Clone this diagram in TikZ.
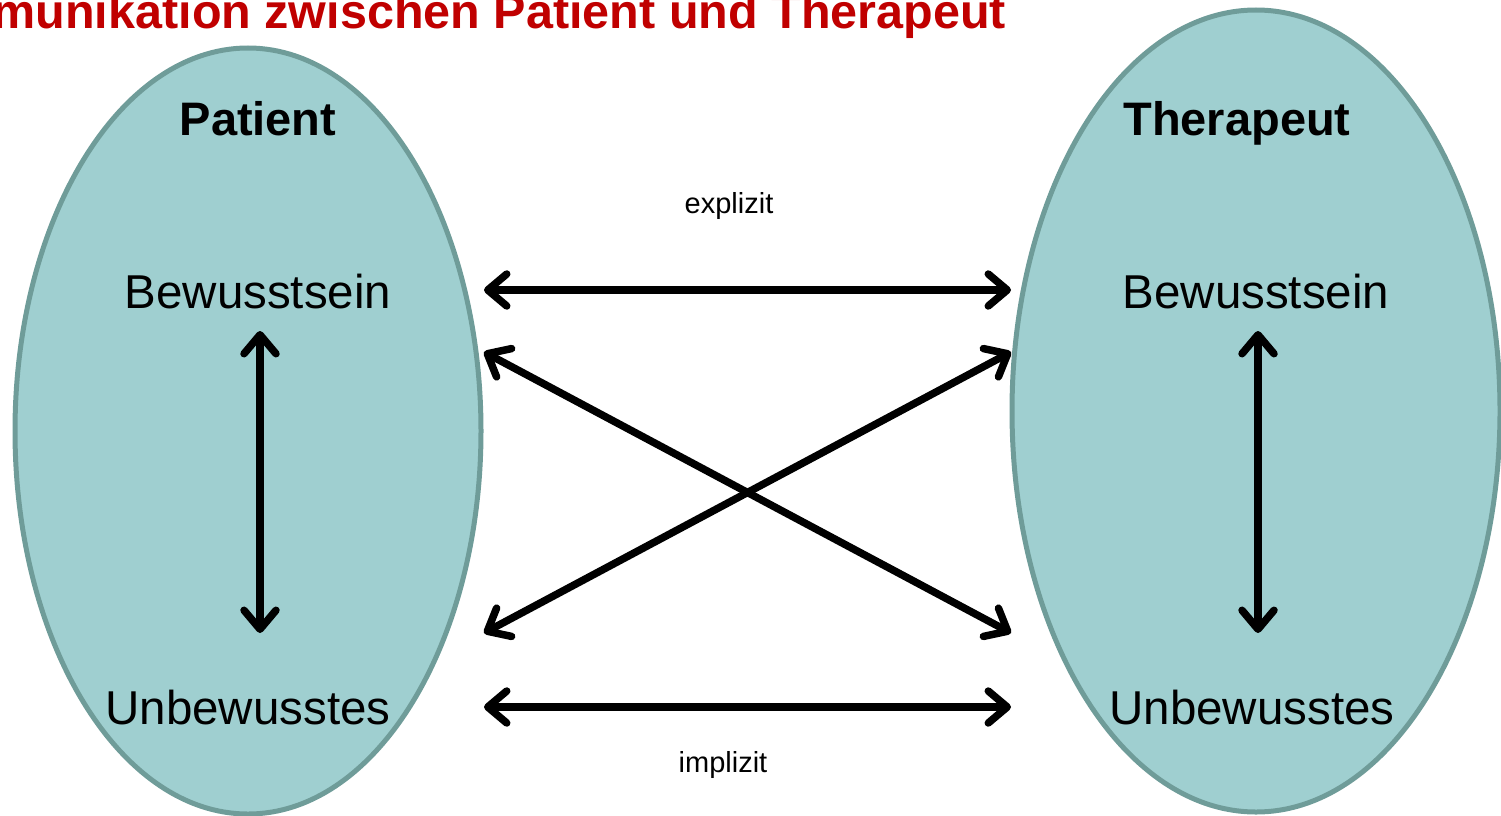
\documentclass[tikz,border=0pt]{standalone}
\usepackage{fontspec}
\setmainfont{Liberation Sans}
\usetikzlibrary{arrows.meta}
\definecolor{ellfill}{HTML}{9FCFD0}
\definecolor{elldraw}{HTML}{6F9C99}
\definecolor{titlered}{HTML}{C00000}
\tikzset{
  person/.style={fill=ellfill,draw=elldraw,line width=5pt},
  conn/.style={line width=7.5pt,{Straight Barb[length=19pt,width=32pt,round]}-{Straight Barb[length=19pt,width=32pt,round]}},
  bigtext/.style={font=\fontsize{47.5}{52}\selectfont,anchor=base,inner sep=0pt},
  headtext/.style={font=\fontsize{47}{52}\selectfont\bfseries,anchor=base,inner sep=0pt},
  smalltext/.style={font=\fontsize{29}{32}\selectfont,anchor=base,inner sep=0pt}
}
\begin{document}
\begin{tikzpicture}[x=1pt,y=-1pt]
\useasboundingbox (0,0) rectangle (1501,816);
\clip (0,0) rectangle (1501,816);
% ellipses
\draw[person] (248,431) ellipse [x radius=233, y radius=383];
\draw[person] (1256,411) ellipse [x radius=244, y radius=401];
% title
\node[font=\fontsize{48.5}{54}\selectfont\bfseries,text=titlered,anchor=base east,inner sep=0pt] (title) at (1006,29) {Kommunikation zwischen Patient und Therapeut};
% labels
\node[headtext] (pat) at (258,135) {Patient};
\node[headtext] (ther) at (1237,135) {Therapeut};
\node[bigtext] (pbew) at (258,308) {Bewusstsein};
\node[bigtext] (tbew) at (1256,308) {Bewusstsein};
\node[bigtext] (punb) at (248,724) {Unbewusstes};
\node[bigtext] (tunb) at (1252,724) {Unbewusstes};
\node[smalltext] (expl) at (729,213) {explizit};
\node[smalltext] (impl) at (723,772) {implizit};
% connector end points
\coordinate (pB) at (484,290);
\coordinate (tB) at (1011,290);
\coordinate (pBd) at (484,352);
\coordinate (tBd) at (1011,352);
\coordinate (pUd) at (484,633);
\coordinate (tUd) at (1011,633);
\coordinate (pU) at (484,707);
\coordinate (tU) at (1011,707);
\coordinate (pv1) at (260,331);
\coordinate (pv2) at (260,633);
\coordinate (tv1) at (1258,331);
\coordinate (tv2) at (1258,633);
% connectors
\draw[conn] (pB) -- (tB);
\draw[conn] (pU) -- (tU);
\draw[conn] (pBd) -- (tUd);
\draw[conn] (pUd) -- (tBd);
\draw[conn] (pv1) -- (pv2);
\draw[conn] (tv1) -- (tv2);
\end{tikzpicture}
\end{document}
